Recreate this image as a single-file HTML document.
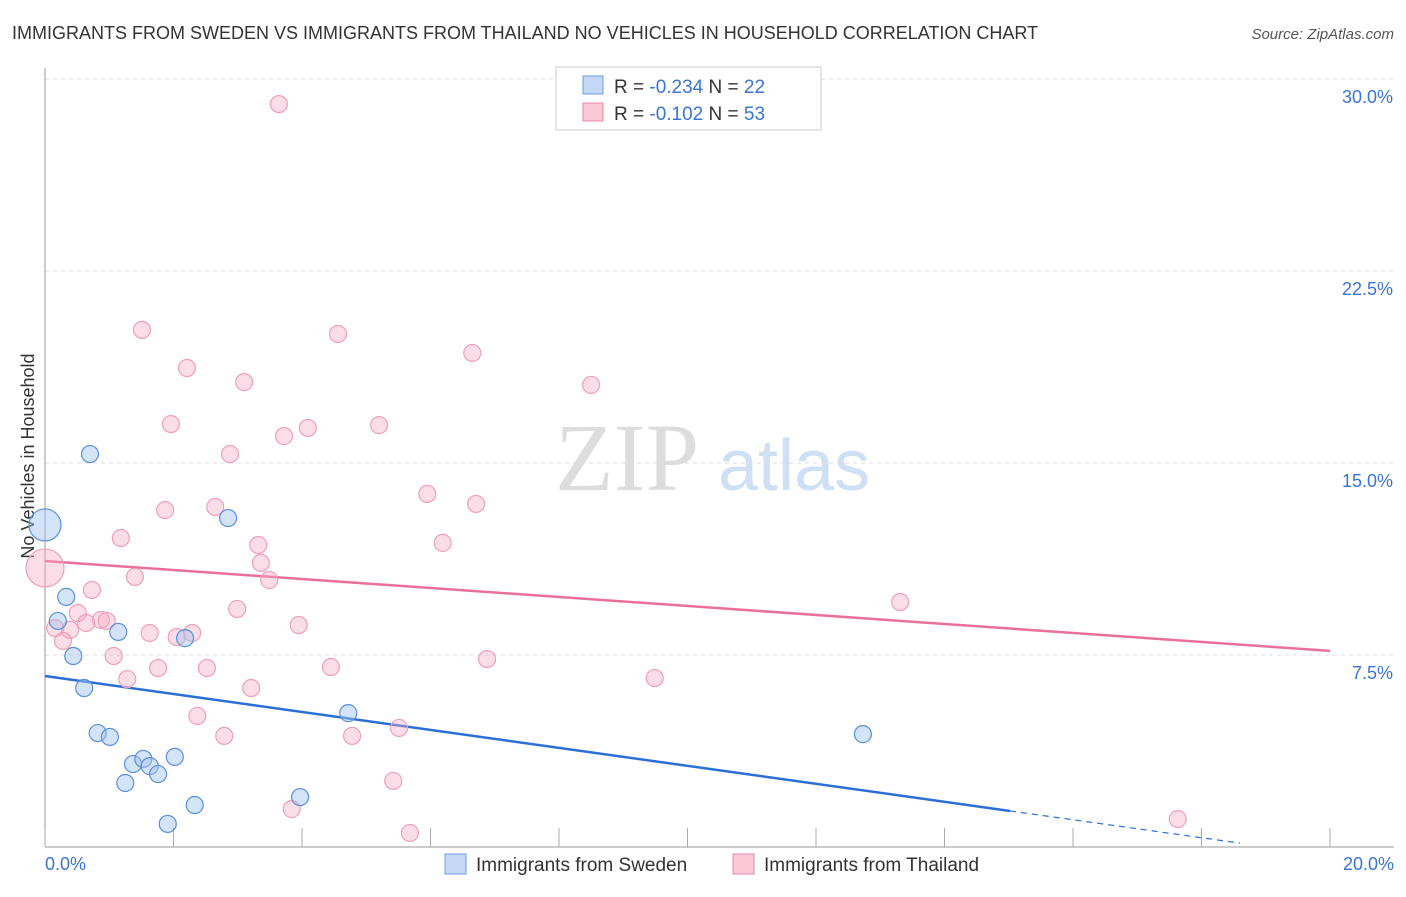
<!DOCTYPE html>
<html><head><meta charset="utf-8"><style>
body{margin:0;background:#fff;font-family:"Liberation Sans",sans-serif;}
</style></head><body>
<svg width="1406" height="892" xmlns="http://www.w3.org/2000/svg" font-family="Liberation Sans, sans-serif">
<text x="12" y="39" font-size="18" fill="#333">IMMIGRANTS FROM SWEDEN VS IMMIGRANTS FROM THAILAND NO VEHICLES IN HOUSEHOLD CORRELATION CHART</text>
<text x="1394" y="39" font-size="15" fill="#555" font-style="italic" text-anchor="end">Source: ZipAtlas.com</text>
<text x="555" y="490" font-size="96" fill="#ddd" font-family="Liberation Serif, serif">ZIP</text>
<text x="718" y="490" font-size="72" fill="#cfe0f5">atlas</text>
<g id="grid"></g>
<line x1="45" y1="68" x2="45" y2="847" stroke="#999"/>
<line x1="45" y1="847" x2="1394" y2="847" stroke="#999"/>
<text transform="translate(34,456) rotate(-90)" font-size="18" fill="#333" text-anchor="middle">No Vehicles in Household</text>
<g id="ticks"></g>
<g id="lines"></g>
<g id="pts"></g>
<g>
<rect x="556" y="67" width="265" height="63" fill="#fff" stroke="#ccc"/>
<rect x="583" y="76" width="20" height="18" fill="#c4d8f5" stroke="#6a9be0"/>
<rect x="583" y="103" width="20" height="18" fill="#fac8d6" stroke="#e88aa8"/>
<text x="614" y="93" font-size="19" fill="#333">R = <tspan fill="#3a75d0">-0.234</tspan>   N = <tspan fill="#3a75d0">22</tspan></text>
<text x="614" y="120" font-size="19" fill="#333">R =  <tspan fill="#3a75d0">-0.102</tspan>   N = <tspan fill="#3a75d0">53</tspan></text>
</g>
<g>
<rect x="445" y="854" width="21" height="20" fill="#c4d8f5" stroke="#6a9be0"/>
<text x="476" y="871" font-size="19" fill="#333">Immigrants from Sweden</text>
<rect x="733" y="854" width="21" height="20" fill="#fac8d6" stroke="#e88aa8"/>
<text x="764" y="871" font-size="19" fill="#333">Immigrants from Thailand</text>
</g>
</svg>
<script>
const yTicks=[7.5,15,22.5,30];
const yTickLabels=["7.5%","15.0%","22.5%","30.0%"];
const xTicks=[0,2,4,6,8,10,12,14,16,18,20];
const swedenX=[0,0.2,0.33,0.44,0.61,0.7,0.82,1.01,1.14,1.25,1.37,1.53,1.63,1.76,1.91,2.02,2.18,2.33,2.85,3.97,4.72,12.73];
const swedenY=[12.58,8.83,9.77,7.46,6.21,15.35,4.45,4.3,8.4,2.5,3.24,3.44,3.16,2.85,0.9,3.52,8.16,1.64,12.85,1.95,5.23,4.41];
const swedenBig=[1,0,0,0,0,0,0,0,0,0,0,0,0,0,0,0,0,0,0,0,0,0];
const thaiX=[3.64,1.51,4.56,6.65,2.21,3.1,8.5,1.96,4.09,5.2,3.72,2.88,5.95,6.71,1.87,2.65,1.18,3.32,6.19,0,3.36,1.4,3.49,0.73,2.99,13.31,0.51,0.87,0.96,0.64,0.16,0.39,3.95,1.63,2.29,2.05,0.28,1.07,6.88,1.76,2.52,4.45,1.28,9.49,3.21,2.37,2.79,4.78,5.51,5.42,3.84,5.68,17.63];
const thaiY=[29.02,20.2,20.04,19.3,18.71,18.16,18.05,16.52,16.37,16.48,16.05,15.35,13.79,13.4,13.16,13.28,12.07,11.8,11.88,10.9,11.1,10.55,10.43,10.04,9.3,9.57,9.14,8.87,8.83,8.75,8.55,8.48,8.67,8.36,8.36,8.2,8.05,7.46,7.34,6.99,6.99,7.03,6.56,6.6,6.21,5.12,4.34,4.34,4.65,2.58,1.48,0.55,1.09];
const swedenTrend=[6.68,-0.351];
const thaiTrend=[11.17,-0.1755];
const X=v=>45+v*64.25, Y=v=>847-v*25.6;
const NS="http://www.w3.org/2000/svg";
function mk(p,t,a){const e=document.createElementNS(NS,t);for(const k in a)e.setAttribute(k,a[k]);document.getElementById(p).appendChild(e);return e;}
yTicks.forEach((v,i)=>{
 const g=mk('grid','line',{x1:45,x2:1394,y1:Y(v),y2:Y(v),stroke:'#ddd','stroke-dasharray':'4,4'});
 
 
 const t=mk('ticks','text',{x:1393,y:Y(v)+24,'font-size':18,fill:'#3a75d0','text-anchor':'end'});
 t.textContent=yTickLabels[i];
 
 
});
xTicks.forEach(v=>{
 const l=mk('ticks','line',{x1:X(v),x2:X(v),y1:828,y2:847,stroke:'#aaa'});
 
 
});
[[0,"0.0%",45,'start'],[20,"20.0%",1394,'end']].forEach(a=>{
 const t=mk('ticks','text',{x:a[2],y:870,'font-size':18,fill:'#3a75d0','text-anchor':a[3]});
 t.textContent=a[1];
 
 
});
const f=(tr,x)=>tr[0]+tr[1]*x;
let l=mk('lines','line',{x1:X(0),y1:Y(f(swedenTrend,0)),x2:X(15.02),y2:Y(f(swedenTrend,15.02)),stroke:'#2a6fd6','stroke-width':2.5});


l=mk('lines','line',{x1:X(15.02),y1:Y(f(swedenTrend,15.02)),x2:X(18.6),y2:Y(f(swedenTrend,18.6)),stroke:'#2a6fd6','stroke-width':1.2,'stroke-dasharray':'6,5'});


l=mk('lines','line',{x1:X(0),y1:Y(f(thaiTrend,0)),x2:X(20),y2:Y(f(thaiTrend,20)),stroke:'#e8709a','stroke-width':2.5});


thaiX.forEach((x,i)=>{
 const big=(x===0);
 const c=mk('pts','circle',{cx:X(x),cy:Y(thaiY[i]),r:big?19:8.5,fill:'rgba(245,170,195,0.4)',stroke:'#eea0b8','stroke-width':1.2});
 
 
});
swedenX.forEach((x,i)=>{
 const c=mk('pts','circle',{cx:X(x),cy:Y(swedenY[i]),r:swedenBig[i]?16:8.5,fill:'rgba(160,195,240,0.45)',stroke:'#5b8fd8','stroke-width':1.2});
 
 
});
</script>
</body></html>
